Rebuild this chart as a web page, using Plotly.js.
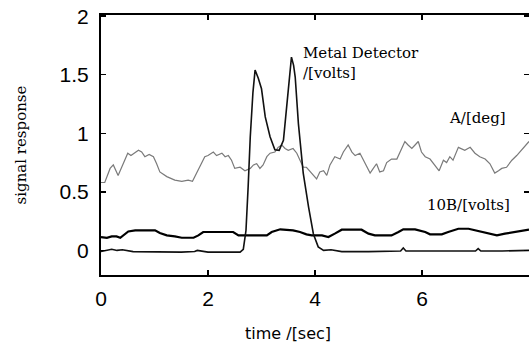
<!DOCTYPE html>
<html>
<head>
<meta charset="utf-8">
<script src="https://cdn.plot.ly/plotly-3.0.1.min.js"></script>
<style>html,body{margin:0;padding:0;background:#fff;}#chart{width:529px;height:346px;}</style>
</head>
<body>
<div id="chart"></div>
<script>
// Metal Detector /[volts]
var mdTime = [0, 0.1, 0.2, 0.3, 0.4, 0.6, 1.0, 1.5, 1.75, 1.8,
  2.0, 2.4, 2.6, 2.66, 2.71, 2.75, 2.79, 2.84, 2.88, 2.94,
  3.0, 3.07, 3.16, 3.25, 3.33, 3.41, 3.47, 3.53, 3.56, 3.6,
  3.63, 3.69, 3.78, 3.88, 3.97, 4.06, 4.16, 4.3, 4.5, 5.0,
  5.6, 5.65, 5.7, 6.0, 7.0, 7.05, 7.1, 7.5, 8.0];
var mdValue = [-0.01, 0.0, 0.01, 0.0, 0.005, -0.01, -0.015, -0.015, -0.01, 0.0,
  -0.015, -0.015, -0.015, 0.01, 0.17, 0.54, 0.97, 1.35, 1.54, 1.47,
  1.38, 1.14, 0.97, 0.86, 0.855, 0.94, 1.22, 1.51, 1.65, 1.58,
  1.48, 1.08, 0.66, 0.37, 0.14, 0.03, 0.0, 0.005, -0.01, -0.01,
  -0.005, 0.02, -0.005, -0.005, -0.005, 0.015, -0.005, -0.005, 0.0];

// A /[deg]
var aTime = [0, 0.07, 0.17, 0.23, 0.32, 0.42, 0.50, 0.56, 0.64, 0.70,
  0.76, 0.82, 0.90, 0.98, 1.04, 1.10, 1.23, 1.38, 1.51, 1.63,
  1.71, 1.79, 1.88, 1.94, 2.0, 2.10, 2.16, 2.26, 2.32, 2.38,
  2.44, 2.50, 2.60, 2.69, 2.79, 2.85, 2.91, 2.97, 3.03, 3.10,
  3.16, 3.25, 3.31, 3.38, 3.44, 3.50, 3.59, 3.66, 3.72, 3.78,
  3.84, 3.94, 4.03, 4.09, 4.16, 4.22, 4.28, 4.37, 4.47, 4.53,
  4.62, 4.69, 4.75, 4.84, 4.93, 5.03, 5.09, 5.15, 5.21, 5.28,
  5.34, 5.43, 5.53, 5.62, 5.68, 5.74, 5.81, 5.87, 5.93, 5.99,
  6.06, 6.15, 6.24, 6.32, 6.40, 6.46, 6.52, 6.58, 6.68, 6.80,
  6.90, 6.99, 7.08, 7.18, 7.27, 7.36, 7.43, 7.49, 7.58, 7.68,
  7.77, 7.86, 7.95, 8.0];
var aValue = [0.58, 0.58, 0.70, 0.73, 0.64, 0.74, 0.83, 0.81, 0.84, 0.855,
  0.84, 0.80, 0.82, 0.80, 0.74, 0.67, 0.63, 0.60, 0.59, 0.60,
  0.59, 0.66, 0.75, 0.80, 0.81, 0.84, 0.81, 0.83, 0.80, 0.81,
  0.77, 0.70, 0.71, 0.68, 0.70, 0.73, 0.74, 0.70, 0.73, 0.80,
  0.83, 0.84, 0.88, 0.90, 0.87, 0.855, 0.87, 0.83, 0.77, 0.71,
  0.71, 0.66, 0.61, 0.67, 0.68, 0.64, 0.73, 0.80, 0.78, 0.84,
  0.90, 0.84, 0.81, 0.83, 0.75, 0.66, 0.70, 0.74, 0.67, 0.68,
  0.75, 0.78, 0.78, 0.87, 0.93, 0.90, 0.87, 0.90, 0.93, 0.84,
  0.80, 0.78, 0.73, 0.68, 0.77, 0.75, 0.80, 0.77, 0.88, 0.855,
  0.88, 0.83, 0.80, 0.78, 0.74, 0.66, 0.68, 0.70, 0.71, 0.77,
  0.81, 0.855, 0.90, 0.93];

// 10B /[volts]
var bTime = [0, 0.11, 0.20, 0.29, 0.36, 0.42, 0.51, 0.64, 1.01, 1.10,
  1.23, 1.38, 1.51, 1.73, 1.82, 1.91, 1.97, 2.47, 2.57, 3.10,
  3.19, 3.35, 3.59, 3.72, 3.84, 3.94, 4.13, 4.25, 4.37, 4.50,
  4.87, 5.0, 5.12, 5.43, 5.56, 5.65, 5.87, 6.06, 6.15, 6.37,
  6.49, 6.68, 6.87, 7.12, 7.27, 7.40, 7.55, 7.74, 8.0];
var bValue = [0.114, 0.108, 0.12, 0.12, 0.108, 0.128, 0.162, 0.171, 0.171, 0.148,
  0.128, 0.12, 0.108, 0.108, 0.128, 0.157, 0.157, 0.157, 0.128, 0.128,
  0.157, 0.18, 0.171, 0.157, 0.137, 0.128, 0.128, 0.114, 0.143, 0.177,
  0.177, 0.143, 0.128, 0.128, 0.157, 0.18, 0.18, 0.157, 0.137, 0.137,
  0.157, 0.185, 0.185, 0.157, 0.137, 0.128, 0.143, 0.157, 0.177];

var xTicks = [0, 2, 4, 6];
var xTickLabels = ['0', '2', '4', '6'];
var yTicks = [0, 0.5, 1, 1.5, 2];
var yTickLabels = ['0', '0.5', '1', '1.5', '2'];

var seriesLabels = ['Metal Detector<br>/[volts]', 'A/[deg]', '10B/[volts]'];

var traces = [
  {x: aTime, y: aValue, type: 'scatter', mode: 'lines', name: 'A/[deg]',
   line: {color: '#7a7a7a', width: 1.2}},
  {x: bTime, y: bValue, type: 'scatter', mode: 'lines', name: '10B/[volts]',
   line: {color: '#000000', width: 2.2}},
  {x: mdTime, y: mdValue, type: 'scatter', mode: 'lines', name: 'Metal Detector /[volts]',
   line: {color: '#111111', width: 1.6}}
];

var serif = 'DejaVu Serif, Liberation Serif, serif';
var layout = {
  width: 529, height: 346,
  margin: {l: 101, r: 0, t: 15, b: 71},
  paper_bgcolor: '#ffffff', plot_bgcolor: '#ffffff',
  showlegend: false,
  font: {family: 'Liberation Sans, Arial, sans-serif', color: '#000'},
  xaxis: {
    range: [0, 8], tickvals: xTicks, ticktext: xTickLabels,
    ticks: 'inside', ticklen: 5, tickwidth: 1.5, tickcolor: '#000',
    showline: true, linewidth: 2, linecolor: '#000', mirror: 'ticks',
    showgrid: false, zeroline: false,
    tickfont: {size: 21, family: 'Liberation Sans, Arial, sans-serif', color: '#000'},
    ticklabelstandoff: 4
  },
  yaxis: {
    range: [-0.21, 2.01], tickvals: yTicks, ticktext: yTickLabels,
    ticks: 'inside', ticklen: 5, tickwidth: 1.5, tickcolor: '#000',
    showline: true, linewidth: 2, linecolor: '#000', mirror: 'ticks',
    showgrid: false, zeroline: false,
    tickfont: {size: 21, family: 'Liberation Sans, Arial, sans-serif', color: '#000'},
    ticklabelstandoff: 6,
    title: {text: 'signal response', font: {family: serif, size: 15, color: '#000'}, standoff: 29}
  },
  annotations: [
    {x: 3.74, y: 1.60, xref: 'x', yref: 'y', text: seriesLabels[0], showarrow: false,
     xanchor: 'left', yanchor: 'middle', align: 'left',
     font: {family: serif, size: 15, color: '#000'}},
    {x: 6.47, y: 1.13, xref: 'x', yref: 'y', text: seriesLabels[1], showarrow: false,
     xanchor: 'left', yanchor: 'middle', font: {family: serif, size: 15, color: '#000'}},
    {x: 6.06, y: 0.385, xref: 'x', yref: 'y', text: seriesLabels[2], showarrow: false,
     xanchor: 'left', yanchor: 'middle', font: {family: serif, size: 15, color: '#000'}},
    {x: (288 - 101) / 428, y: 0, xref: 'paper', yref: 'paper',
     yshift: -(333 - 275), text: 'time /[sec]', showarrow: false, xanchor: 'center', yanchor: 'middle',
     font: {family: 'DejaVu Sans, sans-serif', size: 16, color: '#000'}}
  ]
};

Plotly.newPlot('chart', traces, layout, {staticPlot: true, displayModeBar: false});
</script>
</body>
</html>
